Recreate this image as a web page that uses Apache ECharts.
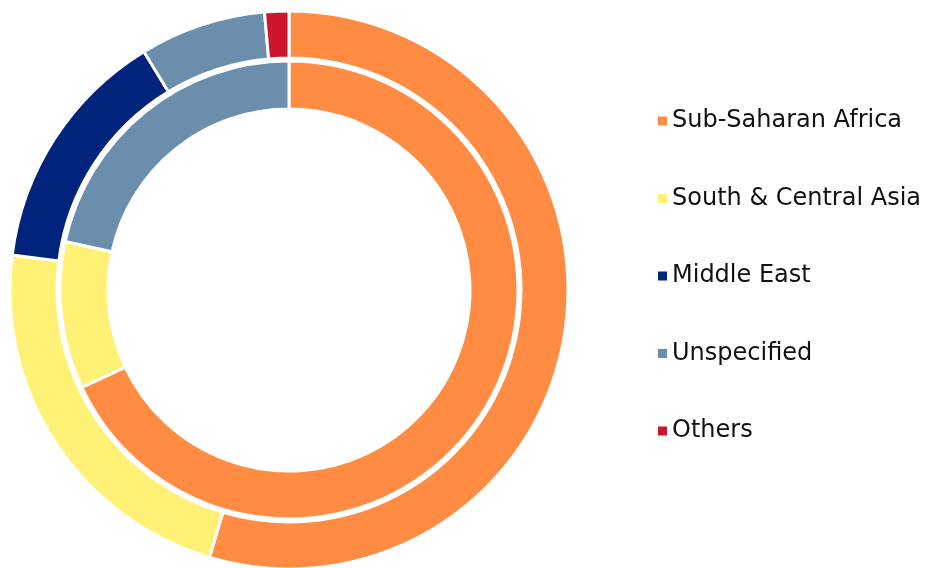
<!DOCTYPE html>
<html>
<head>
<meta charset="utf-8">
<script src="https://cdn.jsdelivr.net/npm/echarts@6/dist/echarts.min.js"></script>
<style>
  html, body { margin: 0; padding: 0; background: #ffffff; }
  #chart { width: 929px; height: 568px; }
</style>
</head>
<body>
<div id="chart"></div>
<script>
const regions = ['Sub-Saharan Africa', 'South & Central Asia', 'Middle East', 'Unspecified', 'Others'];
const regionColors = ['#FF8C42', '#FFF176', '#00237C', '#6A8EAC', '#CE152E'];
const outerValues = [54.6, 22.4, 14.3, 7.3, 1.4];
const innerValues = [68.0, 10.4, 0, 21.6, 0];

const chart = echarts.init(document.getElementById('chart'), null, { renderer: 'canvas' });

function ringData(values) {
    return regions
        .map((name, i) => ({ name, value: values[i], itemStyle: { color: regionColors[i] } }))
        .filter(d => d.value > 0);
}

const ringStyle = {
    type: 'pie',
    center: [289, 290],
    startAngle: 90,
    clockwise: true,
    avoidLabelOverlap: false,
    label: { show: false },
    labelLine: { show: false },
    emphasis: { disabled: true },
    silent: true,
    animation: false
};

chart.setOption({
    backgroundColor: '#ffffff',
    legend: {
        orient: 'vertical',
        left: 651,
        top: 103,
        itemWidth: 11,
        itemHeight: 11,
        itemGap: 51.5,
        icon: 'rect',
        data: regions,
        selectedMode: false,
        textStyle: {
            fontFamily: 'DejaVu Sans',
            fontSize: 24,
            color: '#111111',
            lineHeight: 26,
            padding: [0, 0, 0, -1]
        }
    },
    series: [
        Object.assign({}, ringStyle, {
            name: 'Outer',
            radius: [232, 279],
            itemStyle: { borderColor: '#ffffff', borderWidth: 3 },
            data: ringData(outerValues)
        }),
        Object.assign({}, ringStyle, {
            name: 'Inner',
            radius: [181, 229],
            itemStyle: { borderColor: '#ffffff', borderWidth: 3 },
            data: ringData(innerValues)
        })
    ]
});
</script>
</body>
</html>
